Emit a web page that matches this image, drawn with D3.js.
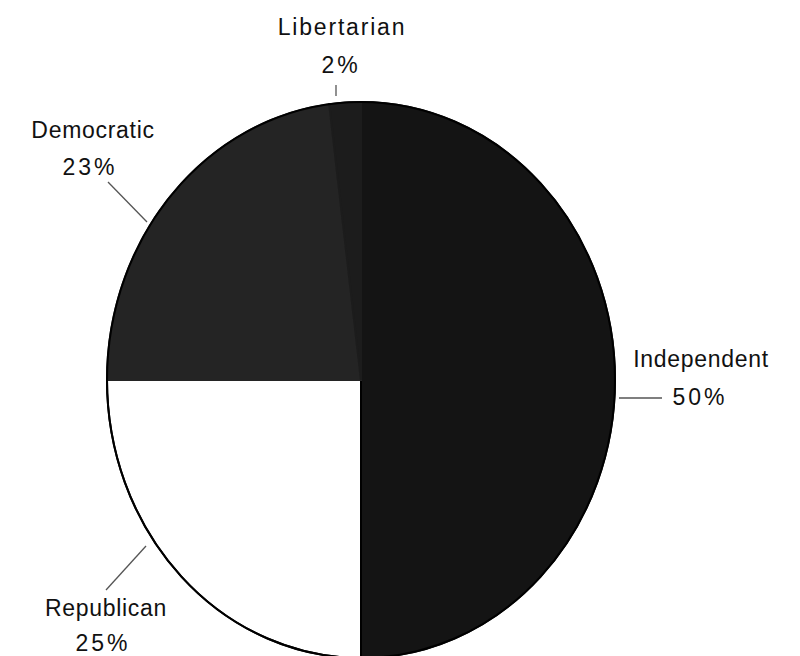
<!DOCTYPE html>
<html>
<head>
<meta charset="utf-8">
<script src="https://cdn.jsdelivr.net/npm/d3@7"></script>
<style>
  body { margin: 0; background: #fff; }
  text { font-family: "Liberation Sans", Arial, sans-serif; fill: #111; }
</style>
</head>
<body>
<svg id="chart" width="800" height="656"></svg>
<script>
// data, clockwise from 12 o'clock
const parties = ["Independent", "Republican", "Democratic", "Libertarian"];
const shares = [50, 25, 23, 2];
const fills = ["#141414", "#ffffff", "#242424", "#1c1c1c"];

// ellipse (the scan is stretched vertically)
const cx = 361, cy = 380, rx = 254, ry = 278;

// label placement: leader line and text positions
const labelLayout = {
  Independent: { lead: [[619, 398], [662, 398]], name: [701, 367], pct: [700, 405] },
  Republican:  { lead: [[146, 546], [106, 590]], name: [106, 616], pct: [103, 651] },
  Democratic:  { lead: [[147, 222], [108, 182]], name: [93, 138], pct: [90, 175] },
  Libertarian: { lead: [[336, 96], [336, 85]], name: [342, 35], pct: [341, 73] }
};

const svg = d3.select("#chart");

const pie = d3.pie().sort(null).value(d => d.v);
const arcs = pie(parties.map((p, i) => ({ p, v: shares[i], c: fills[i] })));
const arc = d3.arc().innerRadius(0).outerRadius(1);

const g = svg.append("g")
  .attr("transform", `translate(${cx},${cy}) scale(${rx},${ry})`);

// dark slices blend into each other, only the white one gets a black edge
g.selectAll("path")
  .data(arcs)
  .join("path")
  .attr("d", arc)
  .attr("fill", d => d.data.c)
  .attr("stroke", d => d.data.c === "#ffffff" ? "#000" : d.data.c)
  .attr("stroke-width", 2)
  .attr("vector-effect", "non-scaling-stroke");

// outline
svg.append("ellipse")
  .attr("cx", cx).attr("cy", cy)
  .attr("rx", rx).attr("ry", ry)
  .attr("fill", "none")
  .attr("stroke", "#000")
  .attr("stroke-width", 2);

// leader lines
svg.selectAll("line.lead")
  .data(arcs)
  .join("line")
  .attr("class", "lead")
  .attr("x1", d => labelLayout[d.data.p].lead[0][0])
  .attr("y1", d => labelLayout[d.data.p].lead[0][1])
  .attr("x2", d => labelLayout[d.data.p].lead[1][0])
  .attr("y2", d => labelLayout[d.data.p].lead[1][1])
  .attr("stroke", "#555")
  .attr("stroke-width", 1.3);

svg.selectAll("text.name")
  .data(arcs)
  .join("text")
  .attr("class", "name")
  .attr("x", d => labelLayout[d.data.p].name[0])
  .attr("y", d => labelLayout[d.data.p].name[1])
  .attr("text-anchor", "middle")
  .attr("font-size", 23)
  .attr("letter-spacing", d => d.data.p === "Libertarian" ? 1.8 : 0.7)
  .text(d => d.data.p);

svg.selectAll("text.pct")
  .data(arcs)
  .join("text")
  .attr("class", "pct")
  .attr("x", d => labelLayout[d.data.p].pct[0])
  .attr("y", d => labelLayout[d.data.p].pct[1])
  .attr("text-anchor", "middle")
  .attr("font-size", 23)
  .attr("letter-spacing", 3)
  .text(d => d.data.v + "%");
</script>
</body>
</html>
